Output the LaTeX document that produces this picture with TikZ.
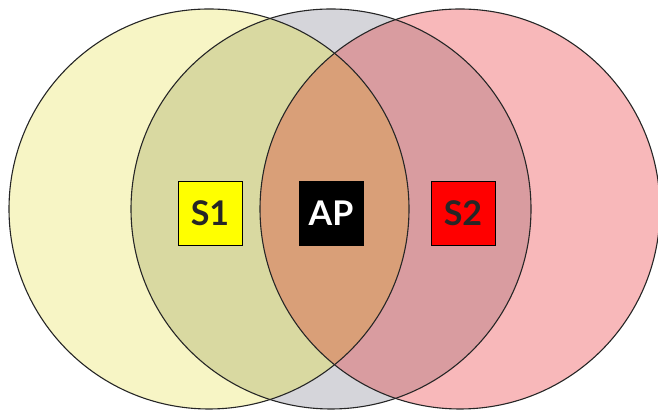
\documentclass[tikz,border=0pt]{standalone}
\usepackage{fontspec}
\setmainfont{Lato}
\usetikzlibrary{positioning}
\definecolor{leftonly}{HTML}{F7F5C5}
\definecolor{midonly}{HTML}{D5D5DA}
\definecolor{rightonly}{HTML}{F8B8BA}
\definecolor{leftmid}{HTML}{D9D9A1}
\definecolor{rightmid}{HTML}{D99CA0}
\definecolor{core}{HTML}{D99F78}
\definecolor{stayellow}{HTML}{FFFF00}
\definecolor{stared}{HTML}{FF0000}
\tikzstyle{ring} = [
    draw=black!85,
    line width=1.1pt
]
\tikzstyle{station} = [
    rectangle,
    minimum width=64pt,
    minimum height=64pt,
    inner sep=0pt,
    draw=black,
    line width=0.8pt,
    font=\fontsize{34}{34}\selectfont\bfseries
]
\def\leftzone{(209,202) circle (200)}
\def\midzone{(331,202) circle (200)}
\def\rightzone{(460,202) circle (200)}

\begin{document}
\begin{tikzpicture}[x=1pt, y=1pt]
\useasboundingbox (0,0) rectangle (658,411);

% coverage areas
\fill [leftonly] \leftzone;
\fill [midonly] \midzone;
\fill [rightonly] \rightzone;
\begin{scope}
\clip \midzone;
\fill [leftmid] \leftzone;
\fill [rightmid] \rightzone;
\end{scope}
\begin{scope}
\clip \leftzone;
\fill [core] \rightzone;
\end{scope}
\draw [ring] \leftzone;
\draw [ring] \midzone;
\draw [ring] \rightzone;

% stations
\node (ap) [station, fill=black, text=white] at (331,198) {AP};
\node (s1) [station, fill=stayellow, text=black!85, left of=ap, node distance=121pt] {S1};
\node (s2) [station, fill=stared, text=black!85, right of=ap, node distance=132pt] {S2};

\end{tikzpicture}
\end{document}
